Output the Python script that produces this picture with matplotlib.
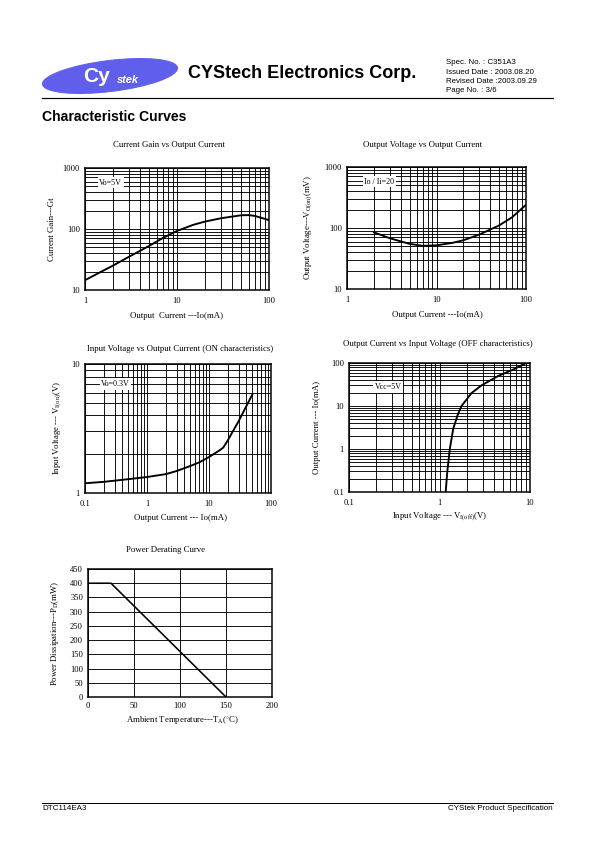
import matplotlib.pyplot as plt
from matplotlib.patches import Ellipse
from matplotlib.ticker import FuncFormatter, NullFormatter, MultipleLocator

W, H = 595, 842
plt.rcParams['font.family'] = ['Liberation Serif', 'DejaVu Sans']
plt.rcParams['mathtext.fontset'] = 'custom'
plt.rcParams['mathtext.rm'] = 'Liberation Serif'
plt.rcParams['mathtext.it'] = 'Liberation Serif:italic'
SANS = ['Liberation Sans', 'DejaVu Sans']

# current gain vs output current
gain_io = [1, 2, 3, 5, 7, 10, 15, 20, 30, 50, 60, 70, 100]
gain_gi = [14.5, 25, 35, 53, 71, 93, 117, 132, 150, 168, 169, 164, 140]

# output voltage vs output current
vo_io = [2, 3, 5, 7, 10, 15, 20, 30, 50, 70, 100]
vo_mv = [85, 68, 55, 51, 52, 57, 63, 78, 110, 150, 240]

# input voltage (on) vs output current
von_io = [0.1, 0.2, 0.5, 1, 2, 3, 5, 7, 10, 15, 17, 20, 30, 50]
von_v = [1.19, 1.22, 1.28, 1.33, 1.40, 1.48, 1.62, 1.73, 1.9, 2.15, 2.25, 2.55, 3.6, 5.8]

# output current vs input voltage (off)
voff_v = [1.17, 1.22, 1.30, 1.42, 1.58, 1.75, 2.26, 2.9, 4.45, 6.5, 8.8]
voff_io = [0.1, 0.3, 1, 3, 6, 10, 20, 30, 50, 70, 97]

# power derating
ta = [0, 25, 150]
pd = [400, 400, 0]

fig = plt.figure(figsize=(W / 72, H / 72), dpi=72)
bg = fig.add_axes([0, 0, 1, 1])
bg.set_xlim(0, W)
bg.set_ylim(H, 0)
bg.axis('off')


def box(l, t, r, b):
    return fig.add_axes([l / W, 1 - b / H, (r - l) / W, (b - t) / H])


def txt(x, y, s, size=8.8, **kw):
    kw.setdefault('ha', 'center')
    kw.setdefault('va', 'center')
    bg.text(x, y, s, fontsize=size, **kw)


def style(ax, log=True):
    if log:
        ax.set_xscale('log')
        ax.set_yscale('log')
        fmt = FuncFormatter(lambda v, p: f'{v:g}')
        ax.xaxis.set_major_formatter(fmt)
        ax.yaxis.set_major_formatter(fmt)
        ax.xaxis.set_minor_formatter(NullFormatter())
        ax.yaxis.set_minor_formatter(NullFormatter())
    ax.grid(True, which='both', color='black', lw=0.9)
    ax.tick_params(which='both', length=0, labelsize=8.5)
    ax.tick_params(axis='x', pad=7)
    ax.tick_params(axis='y', pad=5)
    for s in ax.spines.values():
        s.set_linewidth(1.5)


def note(ax, x, y, s):
    ax.text(x, y, s, transform=ax.transAxes, fontsize=8, ha='center', va='center',
            bbox=dict(facecolor='white', edgecolor='none', pad=1.5), zorder=5)


# header
bg.add_patch(Ellipse((110, 76), 136, 31, angle=-7, color='#5f5fec'))
txt(97, 77, 'Cy', size=21, color='white', weight='bold', family=SANS)
txt(128, 80, 'stek', size=11, color='white', weight='bold', style='italic', family=SANS)
txt(188, 73, 'CYStech Electronics Corp.', size=18, weight='bold', ha='left', family=SANS)
for i, s in enumerate(['Spec. No. : C351A3', 'Issued Date : 2003.08.20',
                       'Revised Date :2003.09.29', 'Page No. : 3/6']):
    txt(446, 63 + i * 9.3, s, size=7.9, ha='left', family=SANS)
bg.plot([42, 553], [98, 98], color='black', lw=1.2)
txt(42, 117, 'Characteristic Curves', size=14, weight='bold', ha='left', family=SANS)

# chart 1
ax = box(85, 168, 269, 290)
ax.plot(gain_io, gain_gi, color='black', lw=1.9)
ax.set_xlim(1, 100)
ax.set_ylim(10, 1000)
style(ax)
note(ax, 0.139, 0.881, 'Vo=5V')
txt(169, 145, 'Current Gain vs Output Current')
txt(177, 316, 'Output  Current ---Io(mA)')
txt(52, 229, 'Current Gain---Gt', rotation=90)

# chart 2
ax = box(347, 167, 526, 289)
ax.plot(vo_io, vo_mv, color='black', lw=1.9)
ax.set_xlim(1, 100)
ax.set_ylim(10, 1000)
style(ax)
note(ax, 0.18, 0.881, 'Io / Ii=20')
txt(423, 145, 'Output Voltage vs Output Current')
txt(437, 315, 'Output Current ---Io(mA)')
txt(309, 228, r'Output Voltage---V$_{\mathrm{O(on)}}$(mV)', rotation=90)

# chart 3
ax = box(85, 364, 271, 493)
ax.plot(von_io, von_v, color='black', lw=1.9)
ax.set_xlim(0.1, 100)
ax.set_ylim(1, 10)
style(ax)
note(ax, 0.164, 0.845, 'Vo=0.3V')
txt(180, 349, 'Input Voltage vs Output Current (ON characteristics)')
txt(180, 518, 'Output Current --- Io(mA)')
txt(58, 428, r'Input Voltage --- V$_{\mathrm{I(on)}}$(V)', rotation=90)

# chart 4
ax = box(349, 363, 530, 492)
ax.plot(voff_v, voff_io, color='black', lw=1.9)
ax.set_xlim(0.1, 10)
ax.set_ylim(0.1, 100)
style(ax)
note(ax, 0.215, 0.814, 'Vcc=5V')
txt(438, 344, 'Output Current vs Input Voltage (OFF characteristics)')
txt(440, 517, r'Input Voltage --- V$_{\mathrm{I(off)}}$(V)')
txt(317, 427, 'Output Current --- Io(mA)', rotation=90)

# chart 5
ax = box(88, 569, 272, 697)
ax.plot(ta, pd, color='black', lw=1.6)
ax.set_xlim(0, 200)
ax.set_ylim(0, 450)
ax.xaxis.set_major_locator(MultipleLocator(50))
ax.yaxis.set_major_locator(MultipleLocator(50))
style(ax, log=False)
ax.tick_params(axis='x', pad=5)
txt(166, 550, 'Power Derating Curve')
txt(182, 720, r'Ambient Temperature---T$_{\mathrm{A}}$($^{\circ}$C)')
txt(55, 633, r'Power Dissipation---P$_{\mathrm{D}}$(mW)', rotation=90)

# footer
bg.plot([42, 553], [803, 803], color='black', lw=1.0)
txt(42, 808, 'DTC114EA3', size=8, ha='left', family=SANS)
txt(553, 808, 'CYStek Product Specification', size=8, ha='right', family=SANS)

fig.savefig('out.png', dpi=72)
